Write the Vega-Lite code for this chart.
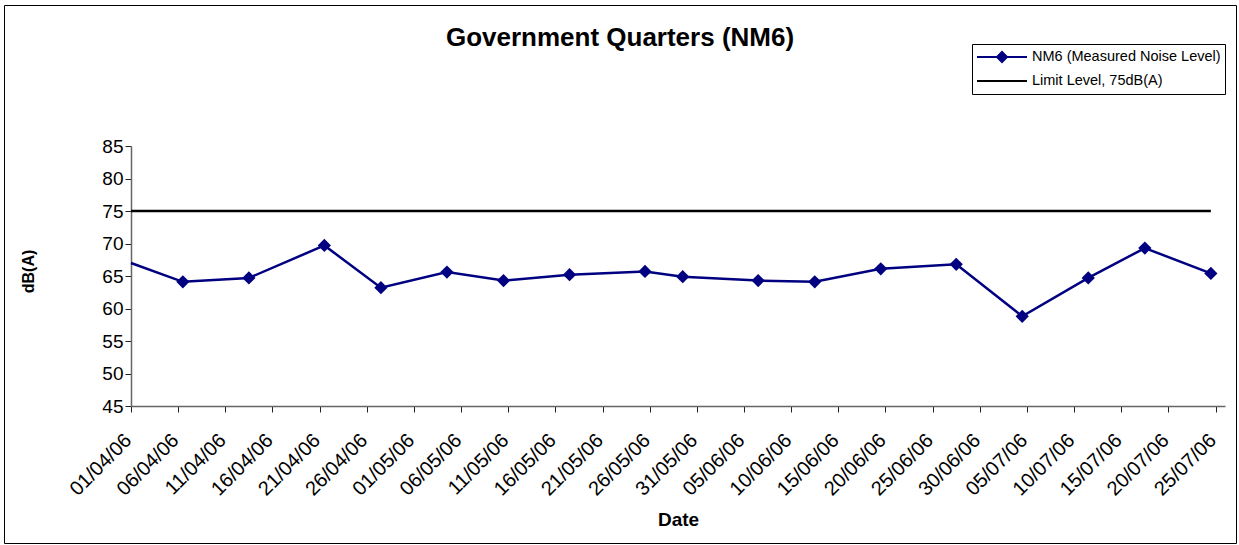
{
  "$schema": "https://vega.github.io/schema/vega-lite/v6.json",
  "autosize": {"type": "none"},
  "padding": {"left": 4, "top": 5, "right": 3, "bottom": 2},
  "width": 1232,
  "height": 538,
  "background": "#ffffff",
  "config": {
    "font": "Liberation Sans",
    "view": {"stroke": "#000000", "strokeWidth": 1},
    "axis": {"grid": false, "labelColor": "#000000", "titleColor": "#000000"}
  },
  "title": {
    "text": "Government Quarters (NM6)",
    "fontSize": 26,
    "fontWeight": "bold",
    "font": "Liberation Sans",
    "color": "#000000",
    "anchor": "middle",
    "frame": "group",
    "baseline": "alphabetic",
    "offset": 0,
    "dy": 67
  },
  "data": {
    "values": [
      {"series": "NM6 (Measured Noise Level)", "date": "2006-04-01T00:00", "value": 67.0},
      {"series": "NM6 (Measured Noise Level)", "date": "2006-04-06T12:00", "value": 64.1},
      {"series": "NM6 (Measured Noise Level)", "date": "2006-04-13T12:00", "value": 64.7},
      {"series": "NM6 (Measured Noise Level)", "date": "2006-04-21T12:00", "value": 69.7},
      {"series": "NM6 (Measured Noise Level)", "date": "2006-04-27T12:00", "value": 63.2},
      {"series": "NM6 (Measured Noise Level)", "date": "2006-05-04T12:00", "value": 65.6},
      {"series": "NM6 (Measured Noise Level)", "date": "2006-05-10T12:00", "value": 64.3},
      {"series": "NM6 (Measured Noise Level)", "date": "2006-05-17T12:00", "value": 65.2},
      {"series": "NM6 (Measured Noise Level)", "date": "2006-05-25T12:00", "value": 65.7},
      {"series": "NM6 (Measured Noise Level)", "date": "2006-05-29T12:00", "value": 64.9},
      {"series": "NM6 (Measured Noise Level)", "date": "2006-06-06T12:00", "value": 64.3},
      {"series": "NM6 (Measured Noise Level)", "date": "2006-06-12T12:00", "value": 64.1},
      {"series": "NM6 (Measured Noise Level)", "date": "2006-06-19T12:00", "value": 66.1},
      {"series": "NM6 (Measured Noise Level)", "date": "2006-06-27T12:00", "value": 66.8},
      {"series": "NM6 (Measured Noise Level)", "date": "2006-07-04T12:00", "value": 58.8},
      {"series": "NM6 (Measured Noise Level)", "date": "2006-07-11T12:00", "value": 64.7},
      {"series": "NM6 (Measured Noise Level)", "date": "2006-07-17T12:00", "value": 69.3},
      {"series": "NM6 (Measured Noise Level)", "date": "2006-07-24T12:00", "value": 65.4},
      {"series": "Limit Level, 75dB(A)", "date": "2006-04-01T00:00", "value": 75},
      {"series": "Limit Level, 75dB(A)", "date": "2006-07-24T12:00", "value": 75}
    ]
  },
  "encoding": {
    "x": {
      "field": "date",
      "type": "temporal",
      "scale": {
        "type": "time",
        "domain": [{"year": 2006, "month": 4, "date": 1}, {"year": 2006, "month": 7, "date": 26}],
        "range": [127, 1221]
      },
      "axis": {
        "title": "Date",
        "titleFontSize": 19,
        "titleFontWeight": "bold",
        "titleY": 119,
        "titleBaseline": "alphabetic",
        "offset": -137,
        "format": "%d/%m/%y",
        "values": [
          {"year": 2006, "month": 4, "date": 1},
          {"year": 2006, "month": 4, "date": 6},
          {"year": 2006, "month": 4, "date": 11},
          {"year": 2006, "month": 4, "date": 16},
          {"year": 2006, "month": 4, "date": 21},
          {"year": 2006, "month": 4, "date": 26},
          {"year": 2006, "month": 5, "date": 1},
          {"year": 2006, "month": 5, "date": 6},
          {"year": 2006, "month": 5, "date": 11},
          {"year": 2006, "month": 5, "date": 16},
          {"year": 2006, "month": 5, "date": 21},
          {"year": 2006, "month": 5, "date": 26},
          {"year": 2006, "month": 5, "date": 31},
          {"year": 2006, "month": 6, "date": 5},
          {"year": 2006, "month": 6, "date": 10},
          {"year": 2006, "month": 6, "date": 15},
          {"year": 2006, "month": 6, "date": 20},
          {"year": 2006, "month": 6, "date": 25},
          {"year": 2006, "month": 6, "date": 30},
          {"year": 2006, "month": 7, "date": 5},
          {"year": 2006, "month": 7, "date": 10},
          {"year": 2006, "month": 7, "date": 15},
          {"year": 2006, "month": 7, "date": 20},
          {"year": 2006, "month": 7, "date": 25}
        ],
        "labelAngle": -45,
        "labelAlign": "right",
        "labelBaseline": "middle",
        "labelFontSize": 20,
        "labelPadding": 25,
        "labelOffset": -3,
        "labelOverlap": false,
        "labelFlush": false,
        "labelBound": false,
        "tickSize": 6,
        "tickColor": "#222222",
        "domainColor": "#666666",
        "domainWidth": 1.5
      }
    },
    "y": {
      "field": "value",
      "type": "quantitative",
      "scale": {"domain": [45, 85], "range": [401, 141], "zero": false, "nice": false},
      "axis": {
        "title": "dB(A)",
        "titleFontSize": 16,
        "titleFontWeight": "bold",
        "titleX": -103,
        "titleY": 266,
        "titleBaseline": "middle",
        "titleAngle": -90,
        "offset": -127,
        "values": [45, 50, 55, 60, 65, 70, 75, 80, 85],
        "labelFontSize": 19,
        "labelPadding": 2,
        "labelFlush": false,
        "labelBound": false,
        "tickSize": 6,
        "tickColor": "#222222",
        "domainColor": "#666666",
        "domainWidth": 1.5
      }
    }
  },
  "layer": [
    {
      "mark": {"type": "line", "strokeWidth": 2.5},
      "encoding": {
        "color": {
          "field": "series",
          "type": "nominal",
          "scale": {
            "domain": ["NM6 (Measured Noise Level)", "Limit Level, 75dB(A)"],
            "range": ["#000080", "#000000"]
          },
          "legend": {
            "title": null,
            "orient": "none",
            "legendX": 968,
            "legendY": 39,
            "padding": 4,
            "strokeColor": "#000000",
            "fillColor": "#ffffff",
            "symbolSize": 2500,
            "symbolStrokeWidth": 2,
            "symbolType": "M-1,0H1",
            "clipHeight": 18,
            "rowPadding": 6,
            "labelFontSize": 14.5,
            "labelOffset": 4,
            "labelColor": "#000000",
            "labelLimit": 400,
            "encoding": {
              "symbols": {
                "shape": {"value": {"expr": "datum.value === 'NM6 (Measured Noise Level)' ? 'M-1,0H1M0,-0.2L0.2,0L0,0.2L-0.2,0Z' : 'M-1,0H1'"}},
                "fill": {"value": {"expr": "scale('color', datum.value)"}},
                "stroke": {"value": {"expr": "scale('color', datum.value)"}}
              }
            }
          }
        }
      }
    },
    {
      "transform": [
        {"filter": "datum.series === 'NM6 (Measured Noise Level)' && hours(datum.date) === 12"}
      ],
      "mark": {"type": "point", "shape": "diamond", "filled": true, "size": 175, "color": "#000080", "opacity": 1}
    }
  ]
}
